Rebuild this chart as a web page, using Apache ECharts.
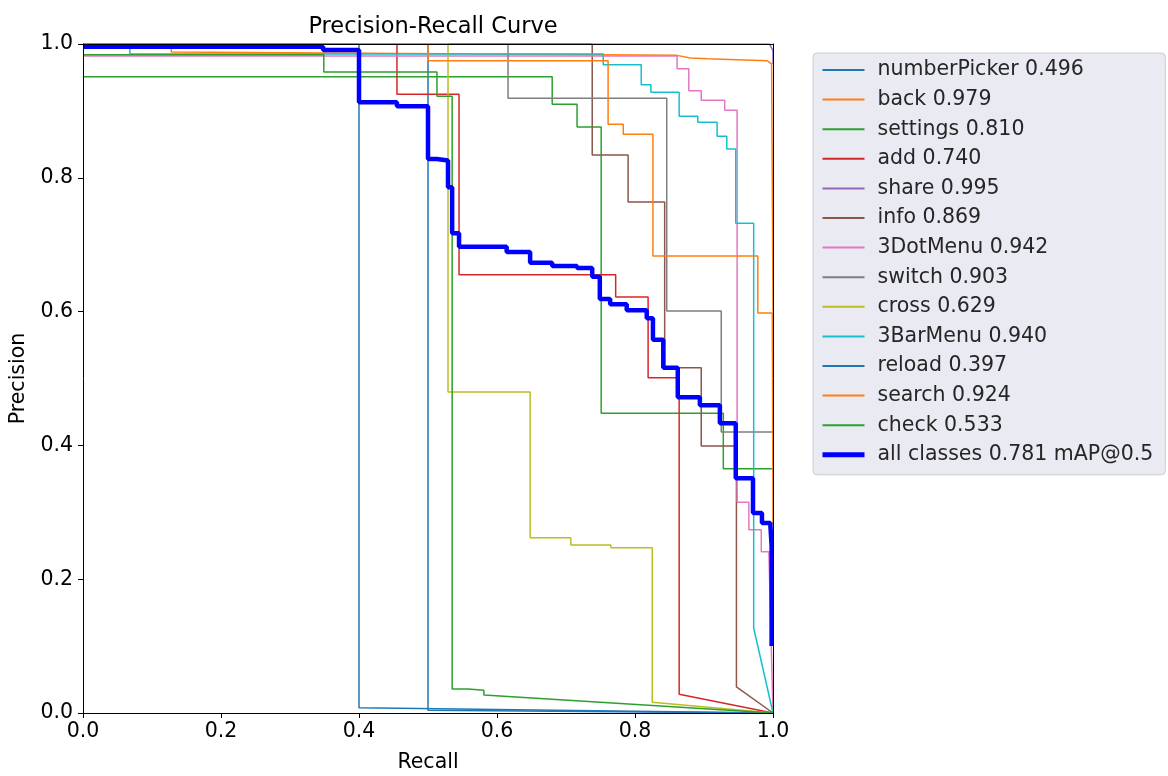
<!DOCTYPE html>
<html>
<head>
<meta charset="utf-8">
<title>Precision-Recall Curve</title>
<script src="https://cdn.jsdelivr.net/npm/echarts@6.0.0/dist/echarts.min.js"></script>
<style>
  html, body { margin: 0; padding: 0; background: #fff; }
  #chart { width: 1168px; height: 776px; }
</style>
</head>
<body>
<div id="chart"></div>
<script>
  // [recall, precision] corners
  const numberPicker = [[0, 1], [0.5, 1], [0.5, 0.004], [1, 0]]
  const back = [[0, 1], [0.128, 1], [0.128, 0.988], [0.861, 0.983], [0.88, 0.979], [0.905, 0.978], [0.992, 0.975], [0.998, 0.97], [1, 0.97], [1, 0.6]]
  const settings = [[0, 0.951], [0.68, 0.951], [0.68, 0.91], [0.716, 0.91], [0.716, 0.876], [0.751, 0.876], [0.751, 0.448], [0.928, 0.448], [0.928, 0.365], [1, 0.365]]
  const add = [[0, 1], [0.455, 1], [0.455, 0.925], [0.545, 0.925], [0.545, 0.655], [0.772, 0.655], [0.772, 0.622], [0.819, 0.622], [0.819, 0.501], [0.864, 0.501], [0.864, 0.028], [1, 0]]
  const share = [[0, 1], [0.995, 1], [1, 0.99], [1, 0.97]]
  const info = [[0, 1], [0.738, 1], [0.738, 0.834], [0.79, 0.834], [0.79, 0.764], [0.843, 0.764], [0.843, 0.516], [0.896, 0.516], [0.896, 0.399], [0.947, 0.399], [0.947, 0.039], [1, 0]]
  const dotMenu = [[0, 0.982], [0.861, 0.982], [0.861, 0.963], [0.878, 0.963], [0.878, 0.93], [0.896, 0.93], [0.896, 0.916], [0.93, 0.916], [0.93, 0.901], [0.948, 0.901], [0.948, 0.315], [0.965, 0.315], [0.965, 0.274], [0.983, 0.274], [0.983, 0.241], [0.994, 0.241], [1, 0]]
  const switchCurve = [[0, 1], [0.616, 1], [0.616, 0.919], [0.846, 0.919], [0.846, 0.601], [0.925, 0.601], [0.925, 0.42], [1, 0.42]]
  const cross = [[0, 1], [0.529, 1], [0.529, 0.48], [0.648, 0.48], [0.648, 0.262], [0.707, 0.262], [0.707, 0.251], [0.765, 0.251], [0.765, 0.247], [0.825, 0.247], [0.825, 0.016], [1, 0]]
  const barMenu = [[0, 1], [0.068, 1], [0.068, 0.985], [0.754, 0.985], [0.754, 0.969], [0.809, 0.969], [0.809, 0.939], [0.823, 0.939], [0.823, 0.928], [0.864, 0.928], [0.864, 0.892], [0.891, 0.892], [0.891, 0.883], [0.919, 0.883], [0.919, 0.862], [0.933, 0.862], [0.933, 0.843], [0.946, 0.843], [0.946, 0.732], [0.972, 0.732], [0.972, 0.127], [1, 0]]
  const reload = [[0, 1], [0.4, 1], [0.4, 0.008], [1, 0]]
  const search = [[0, 1], [0.5, 1], [0.5, 0.975], [0.761, 0.975], [0.761, 0.88], [0.783, 0.88], [0.783, 0.865], [0.826, 0.865], [0.826, 0.683], [0.978, 0.683], [0.978, 0.598], [0.999, 0.598], [1, 0.28]]
  const check = [[0, 0.984], [0.349, 0.984], [0.349, 0.958], [0.513, 0.958], [0.513, 0.922], [0.535, 0.922], [0.535, 0.036], [0.558, 0.036], [0.558, 0.034], [0.581, 0.034], [0.581, 0.027], [1, 0]]
  const allClasses = [[0, 0.996], [0.348, 0.996], [0.348, 0.991], [0.4, 0.991], [0.4, 0.913], [0.455, 0.913], [0.455, 0.907], [0.5, 0.907], [0.5, 0.828], [0.513, 0.828], [0.513, 0.826], [0.529, 0.826], [0.529, 0.786], [0.535, 0.786], [0.535, 0.717], [0.545, 0.717], [0.545, 0.697], [0.614, 0.697], [0.614, 0.689], [0.648, 0.689], [0.648, 0.673], [0.68, 0.673], [0.68, 0.668], [0.716, 0.668], [0.716, 0.665], [0.738, 0.665], [0.738, 0.652], [0.749, 0.652], [0.749, 0.619], [0.764, 0.619], [0.764, 0.611], [0.788, 0.611], [0.788, 0.602], [0.817, 0.602], [0.817, 0.59], [0.826, 0.59], [0.826, 0.558], [0.841, 0.558], [0.841, 0.516], [0.862, 0.516], [0.862, 0.472], [0.894, 0.472], [0.894, 0.46], [0.923, 0.46], [0.923, 0.433], [0.946, 0.433], [0.946, 0.351], [0.971, 0.351], [0.971, 0.299], [0.984, 0.299], [0.984, 0.284], [0.996, 0.284], [0.998, 0.25], [0.998, 0.1]]

  const classNames = ['numberPicker', 'back', 'settings', 'add', 'share', 'info', '3DotMenu', 'switch', 'cross', '3BarMenu', 'reload', 'search', 'check']
  const classAP = [0.496, 0.979, 0.81, 0.74, 0.995, 0.869, 0.942, 0.903, 0.629, 0.94, 0.397, 0.924, 0.533]
  const classCurves = [numberPicker, back, settings, add, share, info, dotMenu, switchCurve, cross, barMenu, reload, search, check]
  const mAP = 0.781
  const tickLabels = ['0.0', '0.2', '0.4', '0.6', '0.8', '1.0']

  const palette = ['#1f77b4', '#ff7f0e', '#2ca02c', '#d62728', '#9467bd', '#8c564b', '#e377c2', '#7f7f7f', '#bcbd22', '#17becf']
  const font = 'DejaVu Sans'
  const labelSize = 20.5
  const allName = `all classes ${mAP.toFixed(3)} mAP@0.5`

  const series = classCurves.map((data, i) => {
    const color = palette[i % palette.length]
    return {
      name: `${classNames[i]} ${classAP[i].toFixed(3)}`,
      type: 'line',
      data,
      symbol: 'none',
      silent: true,
      lineStyle: { width: 1.5, color },
      itemStyle: { color },
    }
  })
  series.push({
    name: allName,
    type: 'line',
    data: allClasses,
    symbol: 'none',
    silent: true,
    lineStyle: { width: 4.5, color: '#0000ff' },
    itemStyle: { color: '#0000ff' },
  })

  // legend entries: thin lines, thick one for all classes
  const legendData = series.map((s) =>
    s.name === allName
      ? { name: s.name, lineStyle: { width: 5 } }
      : { name: s.name, lineStyle: { width: 2 } }
  )

  const tickText = (v) => tickLabels[Math.round(v / 0.2)] ?? ''
  const nameStyle = { color: '#000', fontSize: labelSize, fontFamily: font }

  const valueAxis = (extra) => ({
    type: 'value',
    min: 0,
    max: 1,
    interval: 0.2,
    splitLine: { show: false },
    axisLine: { show: true, onZero: false, lineStyle: { color: '#000', width: 1 } },
    axisTick: { show: true, length: 5, lineStyle: { color: '#000' } },
    z: 10,
    ...extra,
  })
  // top / right spines only
  const spine = (extra) => ({
    type: 'value',
    min: 0,
    max: 1,
    interval: 0.2,
    splitLine: { show: false },
    axisLine: { show: true, onZero: false, lineStyle: { color: '#000', width: 1 } },
    axisTick: { show: false },
    axisLabel: { show: false },
    z: 10,
    ...extra,
  })

  const chart = echarts.init(document.getElementById('chart'))
  chart.setOption({
    animation: false,
    backgroundColor: '#fff',
    title: {
      text: 'Precision-Recall Curve',
      left: 428,
      top: 11,
      textAlign: 'center',
      textStyle: { color: '#000', fontSize: 22.5, fontWeight: 'normal', fontFamily: font },
    },
    grid: { left: 83, top: 44, width: 690, height: 669, containLabel: false, outerBoundsMode: 'none' },
    xAxis: [
      valueAxis({
        position: 'bottom',
        name: 'Recall',
        nameLocation: 'middle',
        nameGap: 39,
        nameTextStyle: nameStyle,
        axisLabel: { color: '#000', fontSize: labelSize, fontFamily: font, formatter: tickText, margin: 8 },
      }),
      spine({ position: 'top' }),
    ],
    yAxis: [
      valueAxis({
        position: 'left',
        name: 'Precision',
        nameLocation: 'middle',
        nameGap: 53,
        nameTextStyle: nameStyle,
        axisLabel: { color: '#000', fontSize: labelSize, fontFamily: font, formatter: tickText, margin: 10 },
      }),
      spine({ position: 'right' }),
    ],
    legend: {
      data: legendData,
      orient: 'vertical',
      left: 813,
      top: 53,
      padding: [6, 12, 9, 7],
      itemWidth: 42,
      itemHeight: 14,
      itemGap: 7.6,
      backgroundColor: '#eaeaf2',
      borderColor: '#cccccc',
      borderWidth: 1,
      borderRadius: 4,
      selectedMode: false,
      itemStyle: { opacity: 0 },
      textStyle: { color: '#262626', fontSize: labelSize, fontFamily: font, lineHeight: 22, padding: [0, 0, 0, 8] },
    },
    series,
  })
</script>
</body>
</html>
